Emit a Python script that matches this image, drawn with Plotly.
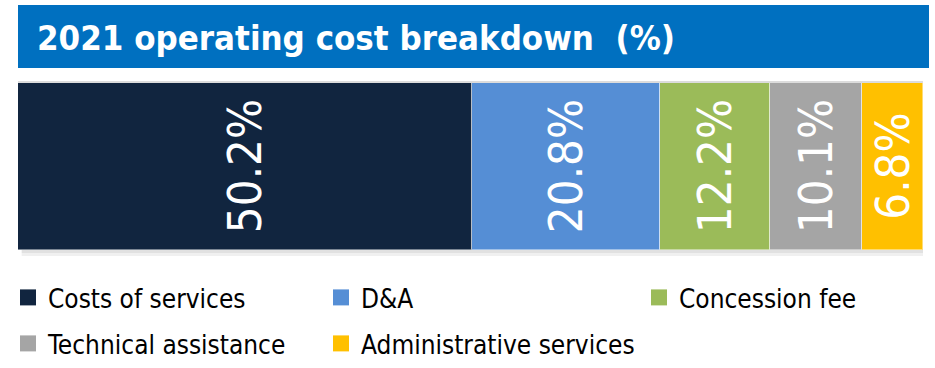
import plotly.graph_objects as go

# Cost categories and their share of 2021 operating costs (%)
categories = ["Costs of services", "D&A", "Concession fee",
              "Technical assistance", "Administrative services"]
shares = [50.2, 20.8, 12.2, 10.1, 6.8]
colors = ["#11253F", "#558ED5", "#9BBB59", "#A5A5A5", "#FFC000"]
# legend block each category is listed in
legend_blocks = ["legend", "legend", "legend3", "legend2", "legend2"]

title_text = "2021 operating cost breakdown  (%)"

W, H = 935, 368
narrow = "DejaVu Sans Condensed, Liberation Sans Narrow, Arial Narrow, sans-serif"

fig = go.Figure()

# One stacked horizontal bar; each segment is a category
for name, val, col in zip(categories, shares, colors):
    fig.add_trace(go.Bar(
        y=["2021"], x=[val], name=name, orientation="h",
        marker=dict(color=col, line=dict(color="rgba(255,255,255,0.45)", width=1)),
        texttemplate="%{x:.1f}%", textposition="inside",
        insidetextanchor="middle", textangle=-90, constraintext="none",
        textfont=dict(family=narrow, size=47, color="white"),
        showlegend=False, hoverinfo="skip",
    ))

# Legend entries drawn with larger square markers
for name, col, lg in zip(categories, colors, legend_blocks):
    fig.add_trace(go.Scatter(
        x=[None], y=[None], mode="markers", name=name,
        marker=dict(symbol="square", size=16, color=col),
        showlegend=True, legend=lg,
    ))

total = sum(shares)

legend_common = dict(
    orientation="h", xref="container", yref="container",
    xanchor="left", yanchor="top", traceorder="normal",
    entrywidth=268, entrywidthmode="pixels",
    font=dict(family=narrow, size=26, color="black"),
    bgcolor="rgba(0,0,0,0)", itemclick=False, itemdoubleclick=False,
)

fig.update_layout(
    width=W, height=H,
    margin=dict(l=18, r=12, t=83, b=118),
    paper_bgcolor="white", plot_bgcolor="white",
    barmode="stack", bargap=0,
    xaxis=dict(range=[0, total], visible=False, fixedrange=True),
    yaxis=dict(range=[-0.5, 0.5], visible=False, fixedrange=True),
    title=dict(
        text=f"<b>{title_text}</b>",
        x=37 / W, xref="container", xanchor="left",
        y=1 - 38 / H, yref="container", yanchor="middle",
        font=dict(family=narrow, size=34.5, color="white"),
    ),
    legend=dict(legend_common, x=8 / W, y=1 - 274 / H),
    legend3=dict(legend_common, x=639 / W, y=1 - 274 / H),
    legend2=dict(legend_common, x=8 / W, y=1 - 320 / H),
    shapes=[
        # blue title banner
        dict(type="rect", xref="paper", yref="paper",
             x0=0, x1=(929 - 18) / 905, y0=(250 - 68) / 167, y1=(250 - 5) / 167,
             fillcolor="#0070C0", line=dict(width=0), layer="below"),
        # soft shadow beneath the bar
        dict(type="rect", xref="paper", yref="paper",
             x0=0.004, x1=1.0, y0=-6 / 167, y1=0,
             fillcolor="rgba(0,0,0,0.06)", line=dict(width=0), layer="below"),
        dict(type="rect", xref="paper", yref="paper",
             x0=0.004, x1=1.0, y0=-3 / 167, y1=0,
             fillcolor="rgba(0,0,0,0.06)", line=dict(width=0), layer="below"),
        # thin light rule along the top of the bar
        dict(type="line", xref="paper", yref="paper",
             x0=0, x1=1, y0=1 + 1 / 167, y1=1 + 1 / 167,
             line=dict(color="#D0D0D0", width=1.5)),
    ],
)

fig.write_html("out.html")
